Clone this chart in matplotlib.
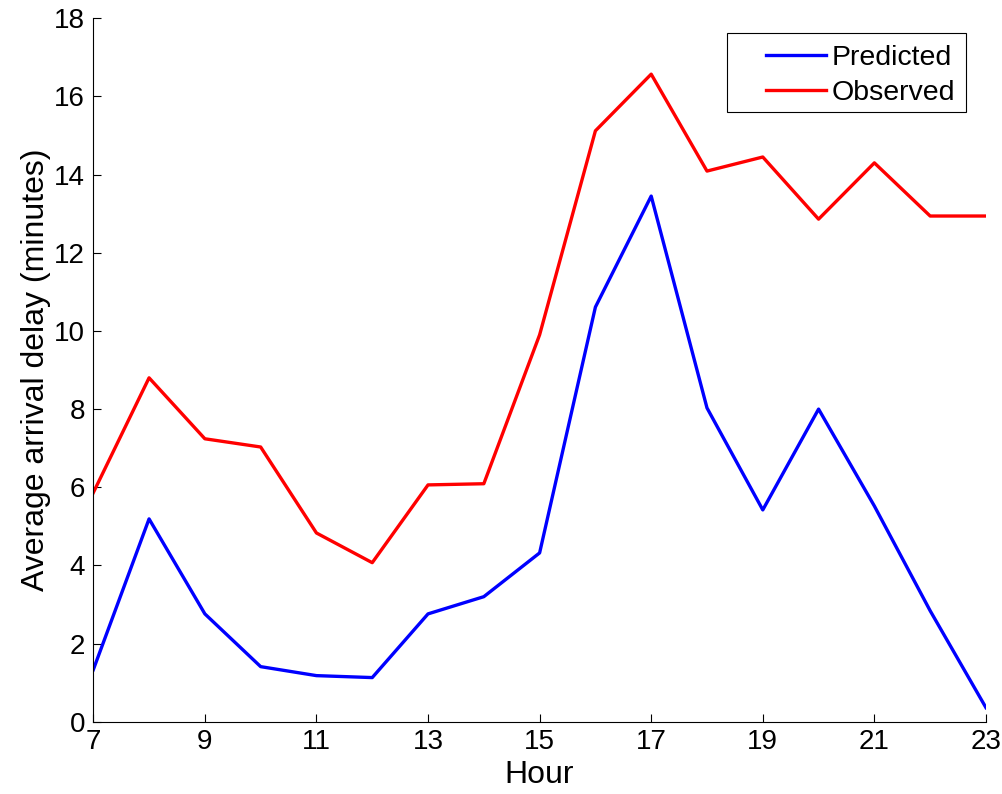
import matplotlib.pyplot as plt
from matplotlib.patches import Rectangle

hours = list(range(7, 24))
predicted = [1.33, 5.19, 2.76, 1.41, 1.18, 1.13, 2.76, 3.2, 4.32, 10.61,
             13.45, 8.03, 5.42, 8.0, 5.52, 2.84, 0.36]
observed = [5.86, 8.8, 7.24, 7.03, 4.83, 4.07, 6.06, 6.09, 9.9, 15.12,
            16.57, 14.09, 14.45, 12.86, 14.3, 12.94, 12.94]

plt.rcParams['font.family'] = ['Liberation Sans', 'DejaVu Sans']

W, H = 1003, 794
fig = plt.figure(figsize=(W / 100, H / 100), dpi=100)
ax = fig.add_axes([0.093, 0.091, 0.890, 0.886])
ax.plot(hours, predicted, color='#0000ff', lw=2.4, label='Predicted')
ax.plot(hours, observed, color='#ff0000', lw=2.4, label='Observed')

ax.set_xlim(7, 23)
ax.set_ylim(0, 18)
ax.set_xticks(range(7, 24, 2))
ax.set_yticks(range(0, 19, 2))
ax.tick_params(direction='in', labelsize=20, length=6, width=0.8)
ax.tick_params(axis='x', pad=5)
ax.tick_params(axis='y', pad=6)
ax.spines['top'].set_visible(False)
ax.spines['right'].set_visible(False)
ax.set_xlabel('Hour', fontsize=23, labelpad=4)
ax.set_ylabel('Average arrival delay (minutes)', fontsize=23, labelpad=2)

# legend entries without frame, box drawn separately (wider padding on the left)
leg = ax.legend(loc='upper left', fontsize=20.5, frameon=False,
                handlelength=2.1, borderpad=0, borderaxespad=0,
                labelspacing=0.3, handletextpad=0.22,
                bbox_to_anchor=(766 / W, 1 - 45 / H),
                bbox_transform=fig.transFigure)
leg.set_zorder(6)
box = Rectangle((727 / W, 1 - 112 / H), (966 - 727) / W, (112 - 33) / H,
                transform=fig.transFigure, facecolor='white',
                edgecolor='black', lw=0.8, zorder=5, clip_on=False)
ax.add_artist(box)

fig.savefig('out.png', dpi=100)
